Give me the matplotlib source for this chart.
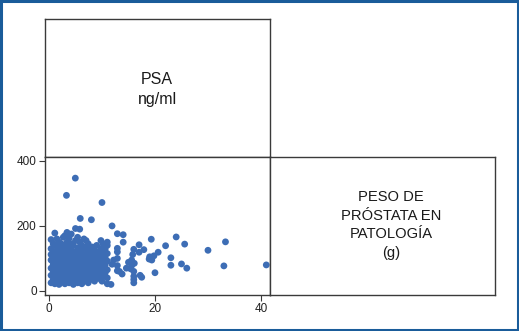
import matplotlib
matplotlib.use("Agg")
import matplotlib.pyplot as plt
from matplotlib.patches import Rectangle

plt.rcParams['font.family'] = ['Liberation Sans', 'DejaVu Sans']

# Dense cluster: x value -> list of PSA values
cluster = {
    0.4: [25, 48, 70, 95, 112, 130, 158],
    0.8: [35, 60, 82, 105, 120, 145],
    1.1: [22, 50, 75, 90, 115, 140, 178],
    1.5: [30, 55, 68, 100, 125, 160],
    1.9: [20, 42, 62, 85, 110, 135, 150],
    2.3: [28, 52, 78, 95, 118, 145],
    2.7: [38, 58, 72, 102, 128, 165],
    3.0: [22, 45, 65, 88, 110, 138, 170],
    3.4: [32, 55, 80, 97, 122, 150, 180],
    3.8: [25, 48, 70, 92, 115, 135, 162],
    4.2: [35, 58, 75, 105, 125, 145, 175],
    4.6: [20, 42, 65, 88, 112, 140],
    5.0: [30, 52, 78, 98, 120, 155, 192],
    5.4: [25, 45, 68, 90, 108, 132, 165],
    5.8: [35, 60, 82, 100, 125, 150, 190],
    6.2: [22, 48, 70, 95, 115, 140],
    6.6: [30, 55, 78, 102, 130, 160],
    7.0: [40, 62, 85, 110, 135, 155],
    7.4: [25, 50, 72, 95, 120, 145],
    7.8: [35, 58, 80, 105, 128],
    8.2: [45, 68, 90, 115, 135],
    8.6: [30, 55, 78, 100, 125],
    9.0: [40, 65, 88, 110, 140],
    9.4: [52, 75, 98, 120],
    9.8: [35, 60, 85, 105, 130, 155],
    10.2: [45, 70, 95, 118, 145],
    10.6: [55, 80, 102, 128],
    11.0: [40, 65, 92, 115, 140, 150],
}

# Scattered points (peso, psa)
peso_extra = [4.97, 3.3, 10.0, 5.9, 8.0, 11.9, 12.9, 14.0, 14.0, 12.9, 17.0, 16.0,
              17.9, 19.3, 24.0, 22.0, 25.6, 33.3, 30.0, 20.6, 19.0, 19.8, 19.4, 18.9,
              23.0, 23.0, 25.0, 26.0, 33.0, 41.0, 20.0, 17.0, 15.8, 15.6, 15.6, 16.1,
              15.4, 16.0, 16.0, 16.0, 16.0, 17.2, 17.5, 12.9, 12.9, 12.9, 13.3, 13.8,
              12.9, 11.9, 11.0, 11.7, 10.0, 14.6, 15.0, 12.2]
psa_extra = [347, 294, 272, 223, 219, 200, 176, 173, 150, 131, 142, 128,
             127, 159, 166, 139, 144, 151, 125, 119, 105, 108, 95, 98,
             102, 79, 83, 70, 77, 80, 56, 119, 112, 95, 78, 85,
             68, 60, 45, 35, 25, 48, 42, 120, 100, 78, 60, 52,
             62, 82, 22, 20, 30, 70, 88, 95]

peso = [x for x, ys in cluster.items() for _ in ys] + peso_extra
psa = [y for ys in cluster.values() for y in ys] + psa_extra

x_ticks = [0, 20, 40]
y_ticks = [0, 200, 400]

W, H = 519, 331
fig = plt.figure(figsize=(W / 100, H / 100), dpi=100)
fig.patch.set_facecolor('white')

def fx(px):
    return px / W

def fy(py):
    return 1 - py / H

box_col = '#3a3a3a'
left, mid, right = 45, 270, 494.5
top, midy, bot = 19, 157, 294.5

ax_lbl1 = fig.add_axes([fx(left), fy(midy), fx(mid) - fx(left), fy(top) - fy(midy)])
ax_sc = fig.add_axes([fx(left), fy(bot), fx(mid) - fx(left), fy(midy) - fy(bot)])
ax_lbl2 = fig.add_axes([fx(mid), fy(bot), fx(right) - fx(mid), fy(midy) - fy(bot)])

for a in (ax_lbl1, ax_lbl2):
    a.set_xticks([])
    a.set_yticks([])
    for s in a.spines.values():
        s.set_color(box_col)
        s.set_linewidth(1.0)

ax_lbl1.text(0.498, 0.49, "PSA\nng/ml", ha='center', va='center', fontsize=11.5,
             linespacing=1.38, color='#1a1a1a', transform=ax_lbl1.transAxes)
ax_lbl2.text(0.539, 0.505, "PESO DE\nPRÓSTATA EN\nPATOLOGÍA\n(g)", ha='center', va='center',
             fontsize=10.6, linespacing=1.4, color='#1a1a1a', transform=ax_lbl2.transAxes)

ax_sc.scatter(peso, psa, s=24, color='#3d6db5', edgecolors='none', zorder=3)
ax_sc.set_xlim(-0.75, 41.7)
ax_sc.set_ylim(-11, 412)
ax_sc.set_xticks(x_ticks)
ax_sc.set_yticks(y_ticks)
ax_sc.tick_params(axis='both', direction='out', length=4, width=0.8, color=box_col,
                  labelsize=8.5, labelcolor='#222222', pad=2)
for s in ax_sc.spines.values():
    s.set_color(box_col)
    s.set_linewidth(1.0)

fig.add_artist(Rectangle((0.002, 0.003), 0.996, 0.994, transform=fig.transFigure,
                         fill=False, edgecolor='#1a5c9a', linewidth=2.2))

fig.savefig('out.png', dpi=100, facecolor='white')
